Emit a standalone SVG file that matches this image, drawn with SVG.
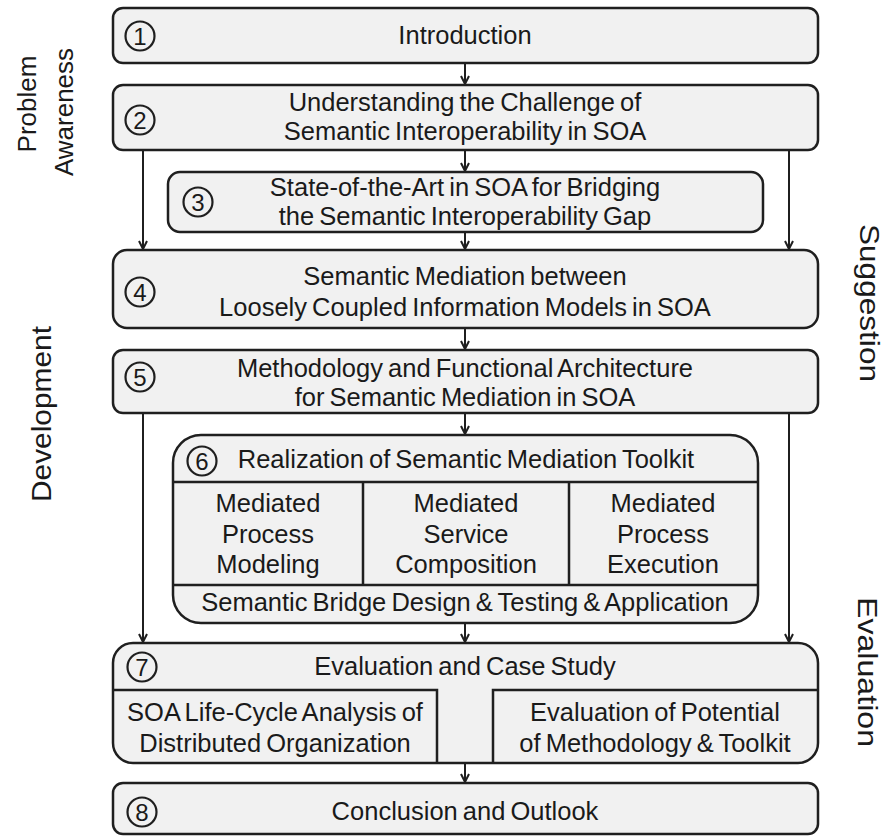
<svg xmlns="http://www.w3.org/2000/svg" width="884" height="837" viewBox="0 0 884 837">
  <style>
    .box { fill: #f1f1f1; stroke: #1f1f1f; stroke-width: 2.5; }
    .div { fill: none; stroke: #1f1f1f; stroke-width: 2.5; }
    .num { fill: none; stroke: #1f1f1f; stroke-width: 2.2; }
    .numt { font-family: "Liberation Sans", Arial, sans-serif; font-size: 24px; fill: #1a1a1a; text-anchor: middle; }
    .t { font-family: "Liberation Sans", Arial, sans-serif; font-size: 25.5px; fill: #1a1a1a; text-anchor: middle; word-spacing: -2px; }
    .side { font-family: "Liberation Sans", Arial, sans-serif; font-size: 26px; fill: #1a1a1a; text-anchor: middle; }
    .conn { fill: none; stroke: #1f1f1f; stroke-width: 2; marker-end: url(#arrow); }
  </style>
  <defs>
    <marker id="arrow" viewBox="0 0 10 10" refX="9.5" refY="5" markerWidth="10" markerHeight="10" markerUnits="userSpaceOnUse" orient="auto">
      <path d="M1.5,1 L9.5,5 L1.5,9" fill="none" stroke="#1f1f1f" stroke-width="2"/>
    </marker>
  </defs>

  <rect width="884" height="837" fill="#ffffff"/>

  <!-- phase labels -->
  <g id="phase-labels">
    <text class="side" transform="translate(36,104) rotate(-90)">Problem</text>
    <text class="side" transform="translate(73,112) rotate(-90)">Awareness</text>
    <text class="side" transform="translate(51,414) rotate(-90)" style="font-size:28px" textLength="176" lengthAdjust="spacingAndGlyphs">Development</text>
    <text class="side" transform="translate(860,303) rotate(90)" style="font-size:28px" textLength="158" lengthAdjust="spacingAndGlyphs">Suggestion</text>
    <text class="side" transform="translate(858,672) rotate(90)" style="font-size:28px" textLength="150" lengthAdjust="spacingAndGlyphs">Evaluation</text>
  </g>

  <!-- connectors -->
  <g id="connectors">
    <line class="conn" x1="465" y1="63" x2="465" y2="84"/>
    <line class="conn" x1="465" y1="150" x2="465" y2="171"/>
    <line class="conn" x1="465" y1="232" x2="465" y2="249"/>
    <line class="conn" x1="143" y1="150" x2="143" y2="249"/>
    <line class="conn" x1="789" y1="150" x2="789" y2="249"/>
    <line class="conn" x1="465" y1="328" x2="465" y2="349"/>
    <line class="conn" x1="465" y1="413" x2="465" y2="434"/>
    <line class="conn" x1="143" y1="413" x2="143" y2="642"/>
    <line class="conn" x1="789" y1="413" x2="789" y2="642"/>
    <line class="conn" x1="465" y1="623" x2="465" y2="642"/>
    <line class="conn" x1="437" y1="728" x2="492" y2="728"/>
    <line class="conn" x1="465" y1="763" x2="465" y2="782"/>
  </g>

  <!-- 1 -->
  <g id="node-1">
    <rect class="box" x="113" y="8" width="705" height="55" rx="10"/>
    <circle class="num" cx="140" cy="36" r="14.5"/>
    <text class="numt" x="140" y="44.5">1</text>
    <text class="t" x="465" y="44">Introduction</text>
  </g>

  <!-- 2 -->
  <g id="node-2">
    <rect class="box" x="113" y="85" width="705" height="65" rx="10"/>
    <circle class="num" cx="140" cy="120" r="14.5"/>
    <text class="numt" x="140" y="128.5">2</text>
    <text class="t" x="465" y="111">Understanding the Challenge of</text>
    <text class="t" x="465" y="140">Semantic Interoperability in SOA</text>
  </g>

  <!-- 3 -->
  <g id="node-3">
    <rect class="box" x="168" y="172" width="595" height="60" rx="12"/>
    <circle class="num" cx="198" cy="202" r="14.5"/>
    <text class="numt" x="198" y="210.5">3</text>
    <text class="t" x="465" y="196">State-of-the-Art in SOA for Bridging</text>
    <text class="t" x="465" y="225">the Semantic Interoperability Gap</text>
  </g>

  <!-- 4 -->
  <g id="node-4">
    <rect class="box" x="113" y="250" width="705" height="78" rx="14"/>
    <circle class="num" cx="140" cy="292" r="14.5"/>
    <text class="numt" x="140" y="300.5">4</text>
    <text class="t" x="465" y="285">Semantic Mediation between</text>
    <text class="t" x="465" y="316">Loosely Coupled Information Models in SOA</text>
  </g>

  <!-- 5 -->
  <g id="node-5">
    <rect class="box" x="113" y="350" width="705" height="63" rx="10"/>
    <circle class="num" cx="140" cy="377" r="14.5"/>
    <text class="numt" x="140" y="385.5">5</text>
    <text class="t" x="465" y="377">Methodology and Functional Architecture</text>
    <text class="t" x="465" y="406">for Semantic Mediation in SOA</text>
  </g>

  <!-- 6 -->
  <g id="node-6">
    <rect class="box" x="173" y="435" width="585" height="188" rx="28"/>
    <path class="div" d="M173,482 H758 M173,585 H758 M363,482 V585 M569,482 V585"/>
    <circle class="num" cx="202" cy="461" r="14.5"/>
    <text class="numt" x="202" y="469.5">6</text>
    <text class="t" x="466" y="468">Realization of Semantic Mediation Toolkit</text>
    <text class="t" x="268" y="512">Mediated</text>
    <text class="t" x="268" y="543">Process</text>
    <text class="t" x="268" y="573">Modeling</text>
    <text class="t" x="466" y="512">Mediated</text>
    <text class="t" x="466" y="543">Service</text>
    <text class="t" x="466" y="573">Composition</text>
    <text class="t" x="663" y="512">Mediated</text>
    <text class="t" x="663" y="543">Process</text>
    <text class="t" x="663" y="573">Execution</text>
    <text class="t" x="465" y="611">Semantic Bridge Design &amp; Testing &amp; Application</text>
  </g>

  <!-- 7 -->
  <g id="node-7">
    <rect class="box" x="113" y="643" width="705" height="120" rx="20"/>
    <path class="div" d="M113,690 H437 V763 M493,763 V690 H818"/>
    <circle class="num" cx="142" cy="667" r="14.5"/>
    <text class="numt" x="142" y="675.5">7</text>
    <text class="t" x="465" y="675">Evaluation and Case Study</text>
    <text class="t" x="275" y="721">SOA Life-Cycle Analysis of</text>
    <text class="t" x="275" y="752">Distributed Organization</text>
    <text class="t" x="655" y="721">Evaluation of Potential</text>
    <text class="t" x="655" y="752">of Methodology &amp; Toolkit</text>
  </g>

  <!-- 8 -->
  <g id="node-8">
    <rect class="box" x="113" y="783" width="705" height="51" rx="10"/>
    <circle class="num" cx="142" cy="812" r="14.5"/>
    <text class="numt" x="142" y="820.5">8</text>
    <text class="t" x="465" y="820">Conclusion and Outlook</text>
  </g>
</svg>
